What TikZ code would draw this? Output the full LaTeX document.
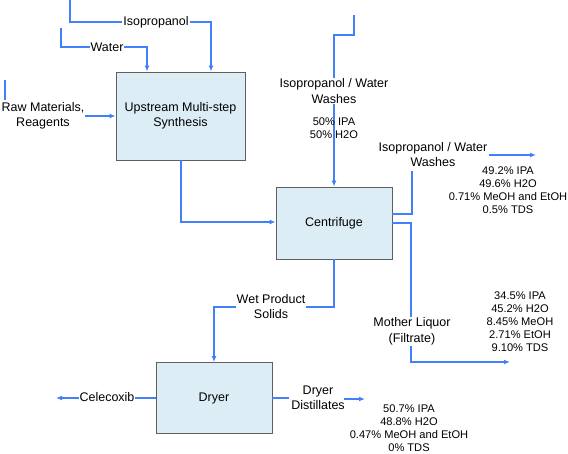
\documentclass[tikz,border=0pt]{standalone}
\usepackage{fontspec}
\setmainfont{Liberation Sans}
\usetikzlibrary{arrows.meta}
\definecolor{flow}{RGB}{66,128,250}
\definecolor{boxfill}{RGB}{220,237,246}
\definecolor{boxline}{RGB}{95,95,95}
\begin{document}
\begin{tikzpicture}[x=1pt,y=-1pt,
  unit/.style={draw=boxline,fill=boxfill,line width=0.9pt,inner sep=0pt,font=\fontsize{12.5}{15}\selectfont,align=center},
  flowline/.style={draw=flow,line width=1.2pt},
  arr/.style={flowline,-{Latex[length=6pt,width=5pt]}},
  lbl/.style={font=\fontsize{12.5}{15.5}\selectfont,align=center,inner sep=1pt},
  small/.style={font=\fontsize{11.1}{13}\selectfont,align=center,inner sep=0pt}]
\useasboundingbox (0,0) rectangle (568,454);
% boxes
\node[unit,minimum width=129pt,minimum height=88pt] (up) at (180.5,116) {Upstream Multi-step\\Synthesis};
\node[unit,minimum width=116pt,minimum height=72pt] (cf) at (334,223) {Centrifuge};
\node[unit,minimum width=116pt,minimum height=71pt] (dr) at (214,398) {Dryer};
% coordinates
\coordinate (iso0) at (70,0);
\coordinate (iso1) at (70,22);
\coordinate (iso2) at (211,22);
\coordinate (w0) at (61,28);
\coordinate (w1) at (61,47);
\coordinate (w2) at (147,47);
\coordinate (rm0) at (5,80);
\coordinate (rm1) at (5,100);
\coordinate (rm2) at (85,116);
\coordinate (u1) at (181,222);
\coordinate (ww0) at (354,15);
\coordinate (ww1) at (354,35);
\coordinate (ww2) at (334,35);
\coordinate (ws1) at (412,214);
\coordinate (ws2) at (412,171);
\coordinate (wa0) at (489,155);
\coordinate (wa1) at (536,155);
\coordinate (ml1) at (411,223);
\coordinate (ml2) at (411,362);
\coordinate (ml3) at (510,362);
\coordinate (wp1) at (334,307);
\coordinate (wp2) at (214,307);
\coordinate (ce1) at (136,398);
\coordinate (ce2) at (56,398);
\coordinate (dd1) at (289,398);
\coordinate (dd2) at (344,399);
\coordinate (dd3) at (365,399);
% connectors
\path[arr] (iso0) -- (iso1) -- (iso2) -- (iso2 |- up.north);
\path[arr] (w0) -- (w1) -- (w2) -- (w2 |- up.north);
\path[flowline] (rm0) -- (rm1);
\path[arr] (rm2) -- (rm2 -| up.west);
\path[arr] (up.south -| u1) -- (u1) -- (u1 -| cf.west);
\path[arr] (ww0) -- (ww1) -- (ww2) -- (cf.north);
\path[flowline] (ws1 -| cf.east) -- (ws1) -- (ws2);
\path[arr] (wa0) -- (wa1);
\path[arr] (ml1 -| cf.east) -- (ml1) -- (ml2) -- (ml3);
\path[arr] (cf.south) -- (wp1) -- (wp2) -- (dr.north);
\path[arr] (dr.west) -- (ce1) -- (ce2);
\path[flowline] (dr.east) -- (dd1);
\path[arr] (dd2) -- (dd3);
% labels
\node[lbl,fill=white] (isol) at (156,22) {Isopropanol};
\node[lbl,fill=white] (wl) at (107,47) {Water};
\node[lbl] (rml) at (43,116) {Raw Materials,\\Reagents};
\node[lbl,fill=white] (wwl) at (334,91) {Isopropanol / Water\\Washes};
\node[small] (wwp) at (334,128.5) {50\% IPA\\50\% H2O};
\node[lbl] (wsl) at (433,154.5) {Isopropanol / Water\\Washes};
\node[small] (wsp) at (508,190.5) {49.2\% IPA\\49.6\% H2O\\0.71\% MeOH and EtOH\\0.5\% TDS};
\node[lbl,fill=white] (mll) at (412,331.5) {Mother Liquor\\(Filtrate)};
\node[small] (mlp) at (520,321.5) {34.5\% IPA\\45.2\% H2O\\8.45\% MeOH\\2.71\% EtOH\\9.10\% TDS};
\node[lbl,fill=white] (wpl) at (271,306.5) {Wet Product\\Solids};
\node[lbl,fill=white] (cel) at (107,397) {Celecoxib};
\node[lbl] (ddl) at (318,398) {Dryer\\Distillates};
\node[small] (ddp) at (409,428) {50.7\% IPA\\48.8\% H2O\\0.47\% MeOH and EtOH\\0\% TDS};
\end{tikzpicture}
\end{document}
